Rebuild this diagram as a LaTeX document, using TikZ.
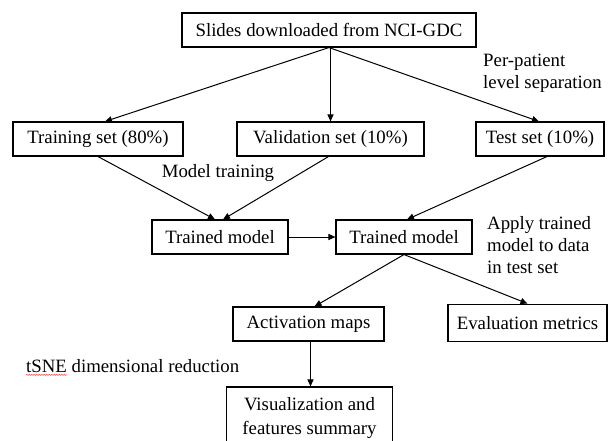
\documentclass[tikz,border=0pt]{standalone}
\usepackage{fontspec}
\setmainfont{Liberation Serif}
\usetikzlibrary{arrows.meta,decorations.pathmorphing}
\begin{document}
\begin{tikzpicture}[x=1pt,y=-1pt,
  box/.style={draw, line width=1.1pt, inner sep=0pt, minimum height=34pt, font=\fontsize{18.8}{22}\selectfont},
  lbl/.style={inner sep=0pt, align=left, font=\fontsize{18.8}{22}\selectfont},
  arr/.style={line width=1pt, -{Triangle[length=7pt,width=6pt]}}]
\useasboundingbox (0,0) rectangle (609,440);
\clip (0,0) rectangle (609,440);
\node[box, minimum width=294pt] (src) at (329,30) {Slides downloaded from NCI-GDC};
\node[box, minimum width=170pt] (train) at (98,139) {Training set (80\%)};
\node[box, minimum width=187pt] (val) at (330.5,139) {Validation set (10\%)};
\node[box, minimum width=128pt] (test) at (540,139) {Test set (10\%)};
\node[box, minimum width=136pt] (tm1) at (220,237) {Trained model};
\node[box, minimum width=136pt] (tm2) at (404,237) {Trained model};
\node[box, minimum width=151pt] (act) at (308.5,324) {Activation maps};
\node[box, minimum width=159pt, minimum height=37pt, line width=1.8pt] (eval) at (527.5,323) {Evaluation metrics};
\node[box, minimum width=166pt, minimum height=62pt, align=center, font=\fontsize{18.8}{24}\selectfont] (vis) at (309.5,418) {Visualization and\\features summary};

\draw[arr] (src.south) -- ([xshift=7pt]train.north);
\draw[arr] (src.south -| val.north) -- (val.north);
\draw[arr] (src.south) -- ([xshift=-1pt]test.north);
\draw[arr] (train.south) -- ([xshift=-5pt]tm1.north);
\draw[arr] ([xshift=-2pt]val.south) -- ([xshift=3pt]tm1.north);
\draw[arr] ([xshift=7pt]test.south) -- ([xshift=3pt]tm2.north);
\draw[arr] (tm1.east) -- (tm2.west);
\draw[arr] (tm2.south) -- ([xshift=6pt]act.north);
\draw[arr] (tm2.south) -- (eval.north);
\draw[arr] ([xshift=2pt]act.south) -- ([xshift=2pt]act.south |- vis.north);

\node[lbl, anchor=west] (pp) at (483,73) {Per-patient\\level separation};
\node[lbl] (mt) at (218,173) {Model training};
\node[lbl, anchor=west] (ap) at (487,245) {Apply trained\\model to data\\in test set};
\node[lbl, anchor=west] (ts) at (26,366) {tSNE dimensional reduction};
\draw[red!70, line width=0.5pt, decorate, decoration={snake, amplitude=0.6pt, segment length=2.5pt}]
  ([yshift=-2pt]ts.south west) -- ++(41,0);
\end{tikzpicture}
\end{document}
